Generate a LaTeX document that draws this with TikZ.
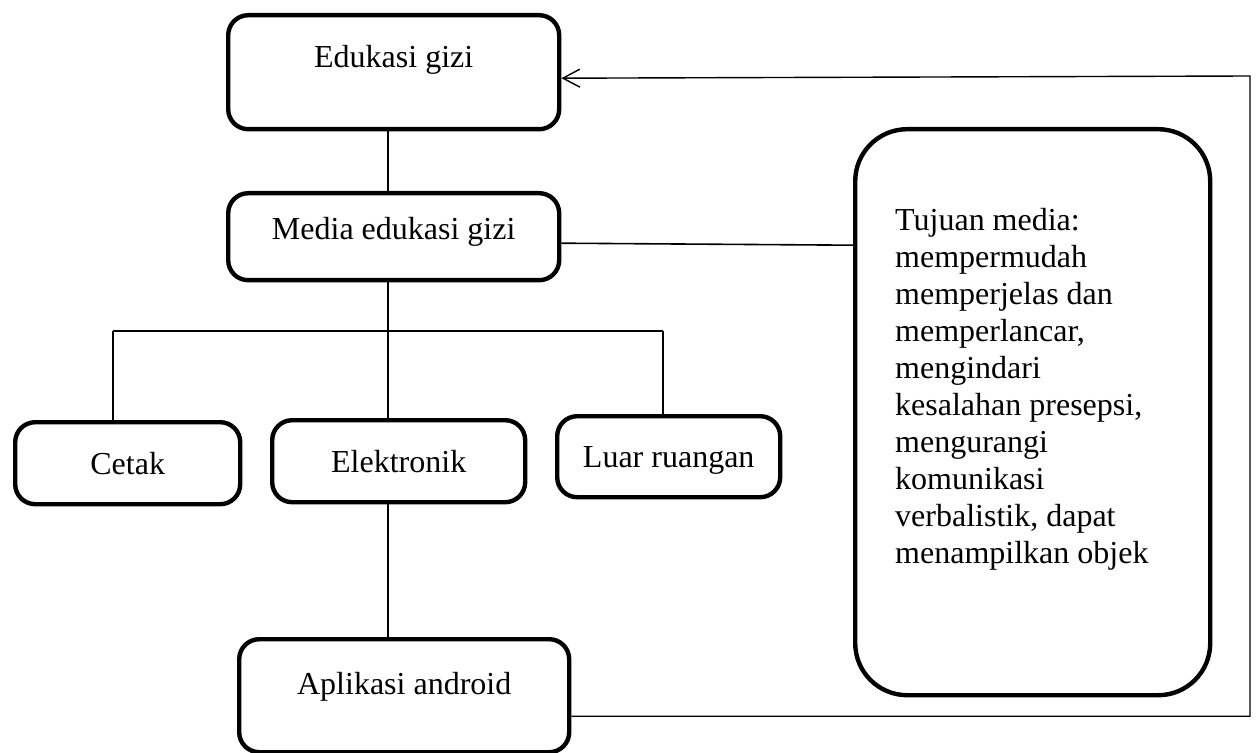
\documentclass[tikz,border=0pt]{standalone}
\usepackage{fontspec}
\setmainfont{Liberation Serif}
\usetikzlibrary{arrows.meta,positioning}

\begin{document}
\begin{tikzpicture}[%
    x=0.5pt, y=-0.5pt,          % one unit = one pixel of the layout
    >={Straight Barb[length=8.5pt,width=9pt]},
    every node/.style={font=\fontsize{16}{18.5}\selectfont},
    ]
\tikzset{
  box/.style={draw, line width=2.2pt, rounded corners=10pt, inner sep=0pt, anchor=north west},
  bigbox/.style={box, rounded corners=26pt},
  link/.style={line width=0.8pt},
  back/.style={link, line width=0.7pt, ->}
}
\useasboundingbox (0,0) rectangle (1256,753);
    % main chain
    \node [box, minimum width=165.5pt, text height=26pt, text depth=31pt] (edu) at (226,13) {Edukasi gizi};
    \node [box, minimum width=165.5pt, text height=23pt, text depth=20.5pt] (media) at (226,191) {Media edukasi gizi};
    % kinds of media
    \node [box, minimum width=112.5pt, text height=26pt, text depth=15pt] (cetak) at (13,420) {Cetak};
    \node [box, minimum width=126.5pt, text height=26pt, text depth=15pt] (elek) at (270,418) {Elektronik};
    \node [box, minimum width=111.5pt, text height=25.5pt, text depth=15pt] (luar) at (555,414) {Luar ruangan};
    \node [box, minimum width=165pt, text height=27.5pt, text depth=29pt] (apl) at (237,637) {Aplikasi android};
    % goals of the media
    \node [bigbox, minimum width=177.5pt, minimum height=283pt] (tuj) at (853,127)
      {\parbox[c][283pt][t]{137.5pt}{\raggedright\vspace*{39.5pt}Tujuan media:\\
        mempermudah\\ memperjelas dan\\ memperlancar,\\ mengindari\\
        kesalahan presepsi,\\ mengurangi\\ komunikasi\\ verbalistik, dapat\\
        menampilkan objek}};
    % connectors
    \coordinate (bus) at (388,331);
    \coordinate (busL) at (113,331);
    \coordinate (busR) at (663,331);
    \coordinate (loop) at (1250,76);
    \draw [link] (edu.south -| bus) -- (media.north -| bus);
    \draw [link] (media.south -| bus) -- (elek.north -| bus);
    \draw [link] (busL) -- (busR);
    \draw [link] (busL) -- (cetak.north -| busL);
    \draw [link] (busR) -- (luar.north -| busR);
    \draw [link] (elek.south -| bus) -- (apl.north -| bus);
    \draw [link] ([yshift=-3.25pt]media.east) -- ([yshift=-4.25pt]media.east -| tuj.west);
    \draw [back] ([yshift=-10.25pt]apl.east) -| (loop) -- ([yshift=-3pt]edu.east);
\end{tikzpicture}
\end{document}
